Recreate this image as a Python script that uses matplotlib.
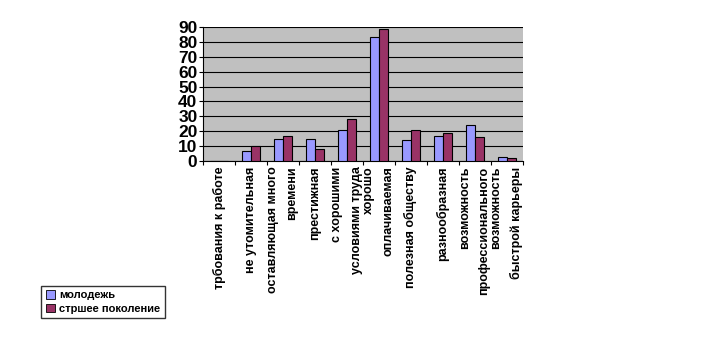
import numpy as np
import matplotlib.pyplot as plt
from matplotlib.patches import Patch

plt.rcParams['font.family'] = ['Liberation Sans', 'DejaVu Sans']

categories = ["трбования к работе", "не утомительная", "оставляющая много\nвремени",
              "престижная", "с хорошими\nусловиями труда", "хорошо\nоплачиваемая",
              "полезная обществу", "разнообразная", "возможность\nпрофессионального",
              "возможность\nбыстрой карьеры"]
youth = [0, 6.5, 14.5, 15, 20.5, 83, 14, 16.5, 24, 2.5]
older = [0, 10, 16.5, 8, 28.5, 88.5, 20.5, 18.5, 16, 2]
series_names = ["молодежь", "стршее поколение"]
colors = ["#9999FF", "#993366"]

fig = plt.figure(figsize=(7.16, 3.54), dpi=100)
ax = fig.add_axes([0.2835, 0.5452, 0.4469, 0.3785])
ax.set_facecolor("#C0C0C0")

x = np.arange(len(categories))
w = 1 / 3.5
ax.bar(x - w / 2, youth, w, color=colors[0], edgecolor="black", linewidth=0.8, zorder=3)
ax.bar(x + w / 2, older, w, color=colors[1], edgecolor="black", linewidth=0.8, zorder=3)

ax.set_xlim(-0.5, len(categories) - 0.5)
ax.set_ylim(0, 90)
ax.set_yticks(range(0, 91, 10))
ax.yaxis.grid(True, color="black", linewidth=0.8, zorder=1)
for lbl in ax.get_yticklabels():
    lbl.set_fontweight("bold")
    lbl.set_fontsize(12.5)
ax.tick_params(axis="y", length=3, pad=1)

ax.set_xticks(np.arange(-0.5, len(categories), 1))
ax.set_xticklabels([])
ax.tick_params(axis="x", length=3, direction="out")
ax.set_xticks(x, minor=True)
ax.set_xticklabels(categories, minor=True, rotation=90, fontsize=9,
                   fontweight="bold", va="top", ha="center",
                   multialignment="right", linespacing=1.8)
ax.tick_params(axis="x", which="minor", length=0, pad=4)

for s in ["top", "right"]:
    ax.spines[s].set_visible(False)

handles = [Patch(facecolor=c, edgecolor="black", linewidth=0.6) for c in colors]
fig.legend(handles, series_names, loc="lower left", bbox_to_anchor=(0.05, 0.085),
           prop={"size": 8, "weight": "bold"}, frameon=True, fancybox=False,
           edgecolor="black", handlelength=0.8, handleheight=0.8, handletextpad=0.4,
           borderpad=0.4, labelspacing=0.3)

fig.savefig("out.png", dpi=100)
